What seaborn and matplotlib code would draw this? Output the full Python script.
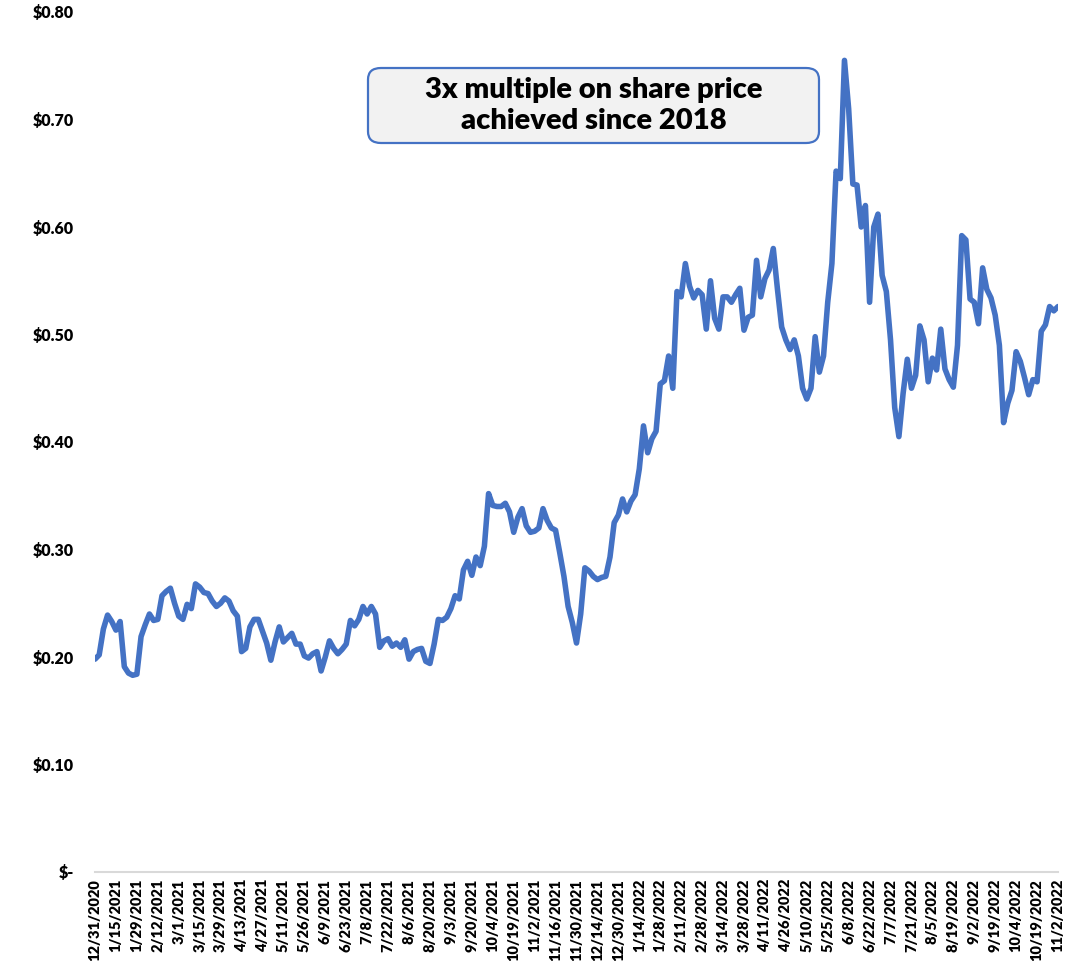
import numpy as np
import pandas as pd
import matplotlib
matplotlib.use("Agg")
import matplotlib.pyplot as plt
from matplotlib.patches import FancyBboxPatch
import seaborn as sns

# Tick labels (every 10 trading days); prices sampled every 2 trading days
tick_labels = ["12/31/2020", "1/15/2021", "1/29/2021", "2/12/2021", "3/1/2021", "3/15/2021",
               "3/29/2021", "4/13/2021", "4/27/2021", "5/11/2021", "5/26/2021", "6/9/2021",
               "6/23/2021", "7/8/2021", "7/22/2021", "8/6/2021", "8/20/2021", "9/3/2021",
               "9/20/2021", "10/4/2021", "10/19/2021", "11/2/2021", "11/16/2021", "11/30/2021",
               "12/14/2021", "12/30/2021", "1/14/2022", "1/28/2022", "2/11/2022", "2/28/2022",
               "3/14/2022", "3/28/2022", "4/11/2022", "4/26/2022", "5/10/2022", "5/25/2022",
               "6/8/2022", "6/22/2022", "7/7/2022", "7/21/2022", "8/5/2022", "8/19/2022",
               "9/2/2022", "9/19/2022", "10/4/2022", "10/19/2022", "11/2/2022"]

price = [
    0.198, 0.202, 0.226, 0.239, 0.233, 0.225, 0.233, 0.191, 0.185, 0.183,
    0.184, 0.219, 0.230, 0.240, 0.234, 0.235, 0.257, 0.261, 0.264, 0.250,
    0.238, 0.235, 0.249, 0.245, 0.268, 0.265, 0.260, 0.259, 0.252, 0.247,
    0.250, 0.255, 0.252, 0.243, 0.238, 0.205, 0.208, 0.228, 0.235, 0.235,
    0.224, 0.213, 0.197, 0.214, 0.228, 0.214, 0.218, 0.222, 0.212, 0.212,
    0.201, 0.199, 0.203, 0.205, 0.187, 0.200, 0.215, 0.208, 0.203, 0.207,
    0.212, 0.234, 0.229, 0.235, 0.247, 0.240, 0.247, 0.240, 0.209, 0.215,
    0.217, 0.210, 0.213, 0.209, 0.216, 0.198, 0.205, 0.207, 0.208, 0.196,
    0.194, 0.212, 0.235, 0.234, 0.237, 0.245, 0.257, 0.254, 0.281, 0.289,
    0.276, 0.293, 0.285, 0.303, 0.352, 0.341, 0.340, 0.340, 0.343, 0.335,
    0.316, 0.330, 0.338, 0.322, 0.316, 0.317, 0.320, 0.338, 0.327, 0.320,
    0.318, 0.297, 0.275, 0.247, 0.232, 0.213, 0.240, 0.283, 0.280, 0.275,
    0.272, 0.274, 0.275, 0.293, 0.325, 0.332, 0.347, 0.335, 0.345, 0.351,
    0.375, 0.415, 0.390, 0.403, 0.410, 0.454, 0.457, 0.480, 0.450, 0.540,
    0.535, 0.566, 0.545, 0.534, 0.541, 0.537, 0.505, 0.550, 0.515, 0.505,
    0.535, 0.535, 0.530, 0.537, 0.543, 0.504, 0.516, 0.518, 0.569, 0.535,
    0.552, 0.560, 0.580, 0.542, 0.507, 0.495, 0.486, 0.495, 0.480, 0.450,
    0.440, 0.450, 0.498, 0.465, 0.480, 0.530, 0.566, 0.652, 0.645, 0.755,
    0.710, 0.640, 0.639, 0.600, 0.620, 0.530, 0.600, 0.612, 0.555, 0.540,
    0.495, 0.432, 0.405, 0.445, 0.477, 0.450, 0.462, 0.508, 0.495, 0.456,
    0.478, 0.467, 0.505, 0.468, 0.458, 0.451, 0.490, 0.592, 0.588, 0.533,
    0.530, 0.510, 0.562, 0.542, 0.534, 0.518, 0.490, 0.418, 0.436, 0.448,
    0.484, 0.475, 0.460, 0.444, 0.458, 0.456, 0.503, 0.509, 0.526, 0.522,
    0.526,
]

y_ticks = [0.0, 0.1, 0.2, 0.3, 0.4, 0.5, 0.6, 0.7, 0.8]
y_tick_labels = ["$-", "$0.10", "$0.20", "$0.30", "$0.40", "$0.50", "$0.60", "$0.70", "$0.80"]
annotation = "3x multiple on share price\nachieved since 2018"

sns.set_theme(style="white")
plt.rcParams["font.family"] = ["Lato", "DejaVu Sans"]

W, H = 1083, 961
fig = plt.figure(figsize=(W / 100, H / 100), dpi=100)
ax = fig.add_axes([95 / W, (H - 872) / H, (1058 - 95) / W, (872 - 12) / H])

df = pd.DataFrame({"idx": np.arange(len(price)), "price": price})
sns.lineplot(data=df, x="idx", y="price", ax=ax, color="#4472C4", linewidth=4.0)

ax.set_xlim(0, len(price) - 1)
ax.set_ylim(0, 0.8)
ax.set_xticks(np.arange(0, len(price), 5))
ax.set_xticklabels(tick_labels, rotation=90, fontsize=10.5, fontweight="heavy", color="#000000")
ax.set_yticks(y_ticks)
ax.set_yticklabels(y_tick_labels, fontsize=11.5, fontweight="heavy", color="#000000")
ax.tick_params(axis="x", length=0, pad=5)
ax.tick_params(axis="y", length=0, pad=15)
ax.set_xlabel("")
ax.set_ylabel("")
for s in ["top", "right", "left"]:
    ax.spines[s].set_visible(False)
ax.spines["bottom"].set_color("#D9D9D9")
ax.spines["bottom"].set_linewidth(1.5)
ax.grid(False)

# Annotation box
x0, y0, x1, y1 = 368, 68, 819, 143
box = FancyBboxPatch((x0 / W, 1 - y1 / H), (x1 - x0) / W, (y1 - y0) / H,
                     boxstyle="round,pad=0,rounding_size=0.012",
                     transform=fig.transFigure, facecolor="#F2F2F2",
                     edgecolor="#4472C4", linewidth=1.6, zorder=5)
fig.add_artist(box)
fig.text((x0 + x1) / 2 / W, 1 - (y0 + y1) / 2 / H, annotation, ha="center", va="center",
         fontsize=21, fontweight="heavy", color="#000000", linespacing=1.2, zorder=6)

fig.savefig("out.png", dpi=100)
